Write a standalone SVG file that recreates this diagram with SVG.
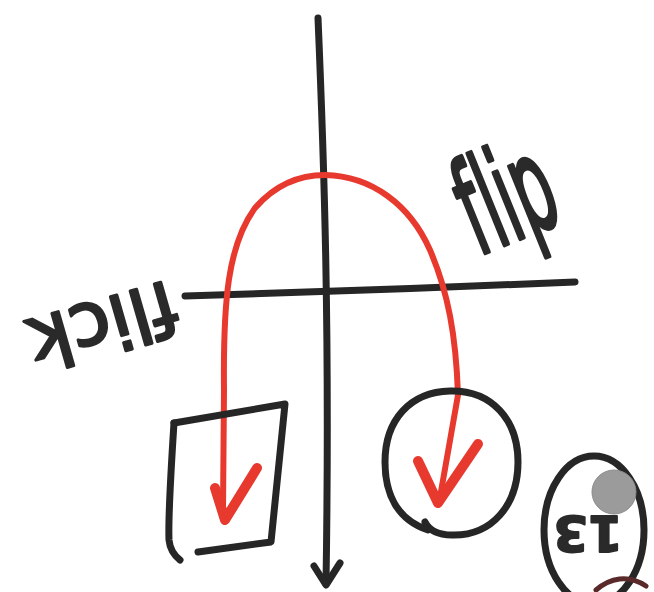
<svg xmlns="http://www.w3.org/2000/svg" width="654" height="592" viewBox="0 0 654 592">
<style>
.ink{fill:none;stroke:#262626;stroke-width:7;stroke-linecap:round;stroke-linejoin:round}
.red{fill:none;stroke:#e8392e;stroke-width:6;stroke-linecap:round;stroke-linejoin:round}
.redhead{fill:none;stroke:#e8392e;stroke-width:10;stroke-linecap:round;stroke-linejoin:round}
.hand{font-family:"DejaVu Sans",sans-serif;fill:#2a2a2a;stroke:#2a2a2a;stroke-linejoin:round;font-variant-ligatures:none}
</style>
<rect width="654" height="592" fill="#ffffff"/>
<g id="connectors">
  <path class="ink" d="M318,18 C324,160 330,330 326,584"/>
  <path class="ink" d="M314,566 L326,585 L340,563"/>
  <path class="ink" d="M185,296 C300,293 450,287 575,282"/>
  <path class="red" d="M223,510 L224,390 C223,300 228,245 255,208 C275,185 300,175 325,175 C372,176 410,205 430,250 C448,292 456,335 458,395 L439,503"/>
  <path class="redhead" d="M215,488 L225,520 L257,468"/>
  <path class="redhead" d="M418,461 L438,503 L478,444"/>
</g>
<g id="node-square">
  <path class="ink" d="M174,423 L285,404 L271,542 L198,552"/>
  <path class="ink" d="M174,423 C171,470 168,515 169,540 C170,550 175,556 180,560"/>
</g>
<g id="node-circle">
  <path class="ink" d="M428,530 C398,520 385,495 385,462 C385,420 410,392 450,391 C492,390 518,420 518,462 C518,505 492,536 452,535 C440,535 430,532 425,522"/>
</g>
<g id="node-13">
  <ellipse class="ink" cx="594" cy="530" rx="50" ry="74"/>
  <text class="hand" font-size="50" font-weight="bold" stroke-width="2" text-anchor="middle" transform="translate(588,534) rotate(180)" dy="18">13</text>
  <circle cx="614" cy="492" r="22" fill="#9b9b9b" stroke="#8a8a8a" stroke-width="1"/>
  <path d="M596,590 C610,578 628,574 646,586" fill="none" stroke="#5a2a2a" stroke-width="5" stroke-linecap="round"/>
</g>
<g id="label-flip">
  <text class="hand" font-size="72" stroke-width="2.5" text-anchor="middle" transform="translate(522,238) rotate(-22) scale(0.85,1.8)">flip</text>
</g>
<g id="label-flick">
  <text class="hand" font-size="74" stroke-width="3" text-anchor="middle" transform="translate(102,322) rotate(164)" dy="22">flick</text>
</g>
</svg>
